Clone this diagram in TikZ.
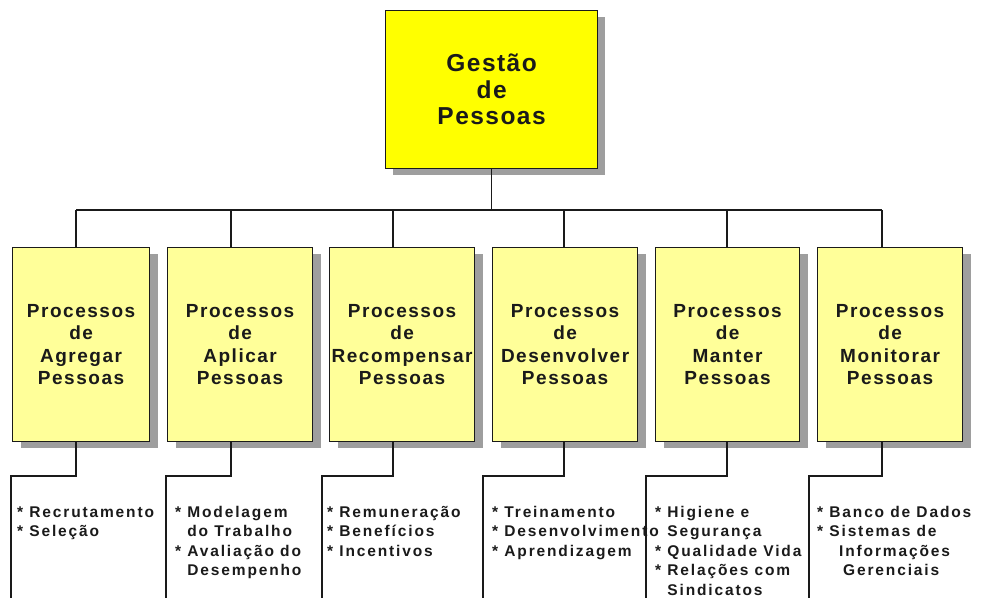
\documentclass[tikz,border=0pt]{standalone}
\usepackage{fontspec}
\setmainfont{Liberation Sans}
\newfontfamily\lsfont{Liberation Sans}[LetterSpace=12]
\newfontfamily\hdfont{Liberation Sans}[LetterSpace=8]
\newfontfamily\tpfont{Liberation Sans}[LetterSpace=6]
\usetikzlibrary{shadows,calc}
\definecolor{topyellow}{HTML}{FFFF00}
\definecolor{boxyellow}{HTML}{FFFF99}
\definecolor{shadowgray}{HTML}{9E9E9E}
\definecolor{inkc}{HTML}{1A1A1A}
\begin{document}
\begin{tikzpicture}[x=1pt,y=-1pt,
  conn/.style={draw=inkc, line width=1.2pt},
  topbox/.style={draw=inkc, line width=1.2pt, fill=topyellow, anchor=north west,
    inner sep=0pt, minimum width=212pt, minimum height=158pt, align=center,
    text=inkc, font=\tpfont\bfseries\fontsize{24.5}{26.5}\selectfont,
    drop shadow={shadow xshift=7pt, shadow yshift=-6pt, fill=shadowgray, opacity=1}},
  pbox/.style={draw=inkc, line width=1.2pt, fill=boxyellow, anchor=north west,
    inner sep=0pt, minimum width=145pt, minimum height=194pt, align=center,
    text=inkc, font=\hdfont\bfseries\fontsize{19}{22.3}\selectfont,
    drop shadow={shadow xshift=8pt, shadow yshift=-6pt, fill=shadowgray, opacity=1}},
  list/.style={anchor=base west, inner sep=0pt, text=inkc,
    font=\lsfont\bfseries\fontsize{15.5}{19.6}\selectfont}
]
\useasboundingbox[fill=white] (0,0) rectangle (981,597);

% top box
\node[topbox] (g) at (385,10) {Gestão\\de\\Pessoas};

% process boxes
\node[pbox, minimum width=137pt] (p1) at (12,247) {Processos\\de\\Agregar\\Pessoas};
\node[pbox] (p2) at (167,247) {Processos\\de\\Aplicar\\Pessoas};
\node[pbox] (p3) at (329,247) {Processos\\de\\Recompensar\\Pessoas};
\node[pbox] (p4) at (492,247) {Processos\\de\\Desenvolver\\Pessoas};
\node[pbox, minimum width=144pt] (p5) at (655,247) {Processos\\de\\Manter\\Pessoas};
\node[pbox] (p6) at (817,247) {Processos\\de\\Monitorar\\Pessoas};

% bus
\coordinate (bus) at (491,210);
\coordinate (d1) at (76,210);
\coordinate (d2) at (231,210);
\coordinate (d3) at (393,210);
\coordinate (d4) at (564,210);
\coordinate (d5) at (727,210);
\coordinate (d6) at (882,210);
\draw[conn] (g.south) -- (g.south |- bus);
\draw[conn] (d1) -- (d6);
\foreach \i in {1,...,6} {
  \draw[conn] (d\i) -- (d\i |- p\i.north);
}

% lower brackets
\coordinate (b1) at (11,476);
\coordinate (b2) at (166,476);
\coordinate (b3) at (322,476);
\coordinate (b4) at (483,476);
\coordinate (b5) at (646,476);
\coordinate (b6) at (809,476);
\foreach \i in {1,...,6} {
  \coordinate (e\i) at ($(b\i)+(0,130)$);
}
\foreach \i in {1,...,6} {
  \draw[conn] (d\i |- p\i.south) -- (d\i |- b\i) -- (b\i) -- (e\i);
}

% lists
\node[list] (t1) at (17,517) {\begin{tabular}[t]{@{}l@{}}* Recrutamento\\\relax* Seleção\end{tabular}};
\node[list] (t2) at (175,517) {\begin{tabular}[t]{@{}l@{}}* Modelagem\\\relax\phantom{* }do Trabalho\\\relax* Avaliação do\\\relax\phantom{* }Desempenho\end{tabular}};
\node[list] (t3) at (327,517) {\begin{tabular}[t]{@{}l@{}}* Remuneração\\\relax* Benefícios\\\relax* Incentivos\end{tabular}};
\node[list] (t4) at (492,517) {\begin{tabular}[t]{@{}l@{}}* Treinamento\\\relax* Desenvolvimento\\\relax* Aprendizagem\end{tabular}};
\node[list] (t5) at (655,517) {\begin{tabular}[t]{@{}l@{}}* Higiene e\\\relax\phantom{* }Segurança\\\relax* Qualidade Vida\\\relax* Relações com\\\relax\phantom{* }Sindicatos\end{tabular}};
\node[list] (t6) at (817,517) {\begin{tabular}[t]{@{}l@{}}* Banco de Dados\\\relax* Sistemas de\\\relax\hspace*{22pt}Informações\\\relax\hspace*{26pt}Gerenciais\end{tabular}};
\end{tikzpicture}
\end{document}
